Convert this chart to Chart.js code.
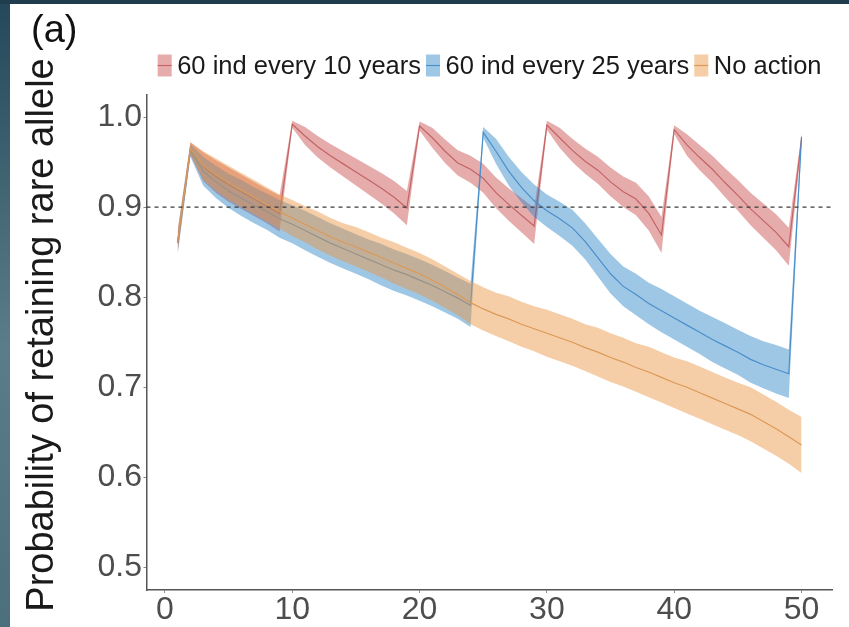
<!DOCTYPE html>
<html>
<head>
<meta charset="utf-8">
<script src="https://cdn.jsdelivr.net/npm/chart.js@4.4.1/dist/chart.umd.min.js"></script>
<style>
    html, body { margin: 0; padding: 0; background: #fff; }
    #wrap { position: relative; width: 849px; height: 627px; overflow: hidden; }
    #leftEdge { position: absolute; left: 0; top: 0; width: 10px; height: 627px; background: linear-gradient(#24485a, #5b7d89 55%, #4c6f7c); }
    #topEdge { position: absolute; left: 0; top: 0; width: 849px; height: 4px; background: #1f3d4c; }
</style>
</head>
<body>
<div id="wrap">
    <canvas id="chartRareAllele" width="849" height="627"></canvas>
    <div id="leftEdge"></div>
    <div id="topEdge"></div>
</div>
<script>
var years = [1,2,3,4,5,6,7,8,9,10,11,12,13,14,15,16,17,18,19,20,21,22,23,24,25,
             26,27,28,29,30,31,32,33,34,35,36,37,38,39,40,41,42,43,44,45,46,47,48,49,50];

// 60 ind every 10 years
var tenYearMean = [.862,.965,.945,.934,.925,.917,.909,.901,.893,.992,.979,.967,.957,.948,.939,.930,.921,.911,.899,.990,.977,.962,.949,.942,.932,
                   .916,.903,.891,.879,.991,.977,.963,.951,.941,.928,.917,.909,.893,.869,.986,.969,.955,.942,.927,.913,.898,.885,.872,.856,.975];
var tenYearLow  = [.850,.958,.929,.916,.906,.898,.890,.882,.873,.988,.969,.955,.944,.934,.924,.914,.904,.893,.880,.985,.966,.949,.935,.927,.916,
                   .899,.885,.872,.859,.986,.966,.950,.937,.926,.912,.900,.891,.874,.849,.981,.957,.941,.927,.911,.896,.880,.866,.852,.835,.969];
var tenYearHigh = [.874,.972,.961,.952,.944,.936,.928,.920,.913,.996,.989,.979,.970,.962,.954,.946,.938,.929,.918,.995,.988,.975,.963,.957,.948,
                   .933,.921,.910,.899,.996,.988,.976,.965,.956,.944,.934,.927,.912,.889,.991,.981,.969,.957,.943,.930,.916,.904,.892,.877,.981];

// 60 ind every 25 years
var quarterMean = [.860,.963,.940,.928,.918,.910,.902,.895,.887,.881,.874,.867,.860,.854,.848,.842,.836,.830,.825,.819,.813,.806,.799,.791,.983,
                   .962,.940,.922,.907,.896,.887,.877,.862,.844,.826,.812,.803,.793,.785,.777,.769,.761,.753,.746,.739,.731,.725,.720,.715,.978];
var quarterLow  = [.848,.956,.924,.910,.899,.890,.882,.875,.866,.860,.852,.845,.838,.832,.826,.820,.813,.807,.802,.796,.790,.783,.776,.767,.977,
                   .948,.924,.905,.889,.878,.868,.857,.842,.823,.804,.790,.780,.770,.761,.753,.745,.737,.728,.721,.714,.705,.699,.693,.688,.972];
var quarterHigh = [.872,.970,.956,.946,.937,.930,.922,.915,.908,.902,.896,.889,.882,.876,.870,.864,.859,.853,.848,.842,.836,.829,.822,.815,.989,
                   .976,.956,.939,.925,.914,.906,.897,.882,.865,.848,.834,.826,.816,.809,.801,.793,.785,.778,.771,.764,.757,.751,.747,.742,.984];

// No action
var noActionMean = [.862,.965,.946,.936,.927,.919,.911,.903,.895,.888,.881,.874,.867,.861,.856,.850,.844,.838,.832,.826,.819,.811,.803,.794,.787,
                    .781,.776,.770,.765,.760,.755,.750,.744,.739,.733,.728,.722,.717,.711,.705,.700,.694,.688,.682,.676,.670,.662,.654,.645,.636];
var noActionLow  = [.850,.958,.930,.918,.908,.900,.892,.884,.876,.868,.861,.853,.846,.840,.834,.828,.822,.815,.809,.803,.796,.788,.780,.770,.763,
                    .757,.751,.745,.740,.734,.729,.724,.718,.712,.706,.701,.695,.689,.683,.677,.671,.665,.659,.653,.647,.640,.632,.624,.615,.605];
var noActionHigh = [.874,.972,.962,.954,.946,.938,.930,.922,.914,.908,.901,.895,.888,.882,.878,.872,.866,.861,.855,.849,.842,.834,.826,.818,.811,
                    .805,.801,.795,.790,.786,.781,.776,.770,.766,.760,.755,.749,.745,.739,.733,.729,.723,.717,.711,.705,.700,.692,.684,.675,.667];

var seriesLabels = ['60 ind every 10 years', '60 ind every 25 years', 'No action'];
var xTicks = [0, 10, 20, 30, 40, 50];
var yTicks = [0.5, 0.6, 0.7, 0.8, 0.9, 1.0];
var thresholdValue = 0.9;
var yTitle = 'Probability of retaining rare allele';

var fontFamily = "'Liberation Sans', Arial, Helvetica, sans-serif";
var bandColors = ['rgba(200,70,70,0.45)', 'rgba(40,130,200,0.45)', 'rgba(235,150,70,0.48)'];
var lineColors = ['#c46464', '#4a8fca', '#dc9a58'];

function toPoints(vals) {
    return vals.map(function(v, i) { return {x: years[i], y: v}; });
}

var seriesData = [
    {mean: tenYearMean, low: tenYearLow, high: tenYearHigh},
    {mean: quarterMean, low: quarterLow, high: quarterHigh},
    {mean: noActionMean, low: noActionLow, high: noActionHigh}
];

var datasets = [];
seriesData.forEach(function(s, i) {
    var order = 30 - i * 10;
    datasets.push({label: seriesLabels[i] + ' upper', data: toPoints(s.high), borderWidth: 0, pointRadius: 0, fill: false, order: order});
    datasets.push({label: seriesLabels[i] + ' lower', data: toPoints(s.low), borderWidth: 0, pointRadius: 0,
                   fill: '-1', backgroundColor: bandColors[i], order: order});
    datasets.push({label: seriesLabels[i], data: toPoints(s.mean), borderWidth: 1.2, borderColor: lineColors[i],
                   pointRadius: 0, fill: false, order: order - 1});
});

// dashed 0.9 line, panel label, y title and ggplot-style legend
var extrasPlugin = {
    id: 'extras',
    afterDatasetsDraw: function(chart) {
        var ctx = chart.ctx, area = chart.chartArea;
        var y = chart.scales.y.getPixelForValue(thresholdValue);
        ctx.save();
        ctx.strokeStyle = '#3a3a3a';
        ctx.lineWidth = 1.3;
        ctx.setLineDash([4, 4]);
        ctx.beginPath();
        ctx.moveTo(area.left, y);
        ctx.lineTo(area.right, y);
        ctx.stroke();
        ctx.restore();
    },
    afterDraw: function(chart) {
        var ctx = chart.ctx, area = chart.chartArea;
        ctx.save();
        ctx.fillStyle = '#111';
        ctx.font = '38px ' + fontFamily;
        ctx.textBaseline = 'alphabetic';
        ctx.fillText('(a)', 31, 42);

        ctx.save();
        ctx.translate(43, 335);
        ctx.rotate(-Math.PI / 2);
        ctx.fillStyle = '#1a1a1a';
        ctx.textAlign = 'center';
        ctx.textBaseline = 'middle';
        ctx.fillText(yTitle, 0, 0);
        ctx.restore();

        ctx.font = '25.5px ' + fontFamily;
        var boxW = 14, boxH = 22, gapText = 5.5, gapItem = 5;
        var total = 0;
        seriesLabels.forEach(function(t, i) {
            total += boxW + gapText + ctx.measureText(t).width + (i > 0 ? gapItem : 0);
        });
        var x = (area.left + area.right) / 2 - total / 2;
        var cy = 65.5;
        seriesLabels.forEach(function(t, i) {
            ctx.fillStyle = bandColors[i];
            ctx.fillRect(x, cy - boxH / 2, boxW, boxH);
            ctx.strokeStyle = lineColors[i];
            ctx.lineWidth = 1.2;
            ctx.beginPath();
            ctx.moveTo(x, cy);
            ctx.lineTo(x + boxW, cy);
            ctx.stroke();
            ctx.fillStyle = '#1a1a1a';
            ctx.textBaseline = 'middle';
            ctx.fillText(t, x + boxW + gapText, cy + 1);
            x += boxW + gapText + ctx.measureText(t).width + gapItem;
        });
        ctx.restore();
    }
};

var chart = new Chart(document.getElementById('chartRareAllele'), {
    type: 'line',
    data: {datasets: datasets},
    plugins: [extrasPlugin],
    options: {
        responsive: false,
        animation: false,
        devicePixelRatio: 1,
        layout: {padding: {top: 94.5, right: 16.3, bottom: 0, left: 0}},
        plugins: {legend: {display: false}, tooltip: {enabled: false}},
        elements: {line: {tension: 0}, point: {radius: 0}},
        scales: {
            x: {
                type: 'linear', min: -1.45, max: 52.45,
                afterBuildTicks: function(scale) { scale.ticks = xTicks.map(function(v) { return {value: v}; }); },
                afterFit: function(scale) { scale.height = 37; },
                grid: {display: true, drawOnChartArea: false, drawTicks: true, tickLength: 3, color: '#888'},
                border: {display: true, color: '#555', width: 1.5},
                ticks: {font: {family: fontFamily, size: 32}, color: '#4d4d4d', padding: -2, maxRotation: 0, autoSkip: false,
                        callback: function(v) { return v; }}
            },
            y: {
                type: 'linear', min: 0.475, max: 1.025,
                afterBuildTicks: function(scale) { scale.ticks = yTicks.map(function(v) { return {value: v}; }); },
                afterFit: function(scale) { scale.width = 146.5; },
                grid: {display: true, drawOnChartArea: false, drawTicks: true, tickLength: 3, color: '#888'},
                border: {display: true, color: '#555', width: 1.5},
                ticks: {font: {family: fontFamily, size: 32}, color: '#4d4d4d', padding: 1.5, autoSkip: false,
                        callback: function(v) { return v.toFixed(1); }}
            }
        }
    }
});
</script>
</body>
</html>
